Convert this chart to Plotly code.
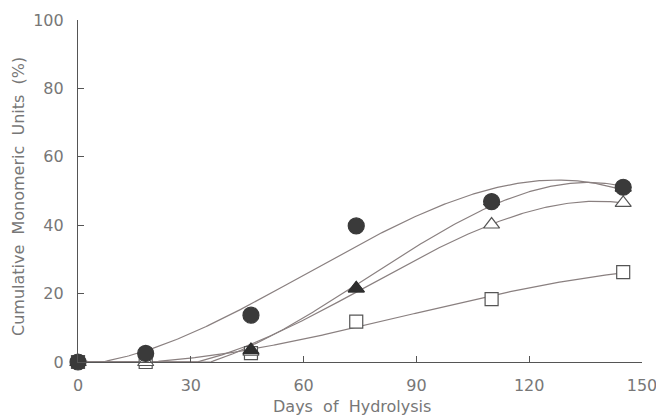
import numpy as np
import plotly.graph_objects as go

days = [0, 18, 46, 74, 110, 145]
filled_circle = [0, 2.5, 13.7, 39.8, 46.9, 51.1]
filled_triangle = [0, -0.5, 3.5, 21.5, 47.0, 51.0]
open_triangle = [0, 0, 3.0, 21.5, 40.2, 46.5]
open_square = [0, 0, 2.6, 11.8, 18.4, 26.3]

x_ticks = [0, 30, 60, 90, 120, 150]
y_ticks = [0, 20, 40, 60, 80, 100]

series = [
    (filled_circle, "circle", "#3a3a3a", "#3a3a3a", 16),
    (filled_triangle, "triangle-up", "#2e2e2e", "#2e2e2e", 14),
    (open_triangle, "triangle-up", "white", "#555555", 14),
    (open_square, "square", "white", "#555555", 13),
]

fig = go.Figure()
xs = np.linspace(0, 145, 300)
for ys, sym, fill, edge, size in series:
    coef = np.polyfit(days, ys, 3)
    fit = np.clip(np.polyval(coef, xs), 0, None)
    fig.add_trace(go.Scatter(x=xs, y=fit, mode="lines",
                             line=dict(color="#8a8080", width=1.2),
                             hoverinfo="skip", showlegend=False))
for ys, sym, fill, edge, size in reversed(series):
    fig.add_trace(go.Scatter(x=days, y=ys, mode="markers",
                             marker=dict(symbol=sym, size=size, color=fill,
                                         line=dict(color=edge, width=1.2)),
                             cliponaxis=False, showlegend=False))

FONT = "DejaVu Sans, Verdana, sans-serif"
axis_font = dict(family=FONT, size=16, color="#777777")
L, R, T, B = 78, 14, 20, 54
fig.update_layout(
    width=656, height=416,
    margin=dict(l=L, r=R, t=T, b=B),
    paper_bgcolor="white", plot_bgcolor="white",
    xaxis=dict(range=[0, 150], tickvals=x_ticks, ticks="inside", ticklen=6,
               tickcolor="#555555", showline=True, linecolor="#555555", linewidth=1.2,
               showgrid=False, zeroline=False, tickfont=axis_font, automargin=False,
               ticklabeloverflow="allow", ticklabelstandoff=9),
    yaxis=dict(range=[0, 100], tickvals=y_ticks, ticks="inside", ticklen=6,
               tickcolor="#555555", showline=True, linecolor="#555555", linewidth=1.2,
               showgrid=False, zeroline=False, tickfont=axis_font, ticklabelstandoff=10,
               automargin=False, ticklabeloverflow="allow"),
)
plot_w = 656 - L - R
plot_h = 416 - T - B
fig.add_annotation(text="Days  of  Hydrolysis", xref="paper", yref="paper",
                   x=(352 - L) / plot_w, y=-(406 - (416 - B)) / plot_h,
                   xanchor="center", yanchor="middle", showarrow=False,
                   font=dict(family=FONT, size=16, color="#777777"))
fig.add_annotation(text="Cumulative  Monomeric  Units  (%)", textangle=-90,
                   xref="paper", yref="paper",
                   x=-(L - 18) / plot_w, y=((416 - B) - 197) / plot_h,
                   xanchor="center", yanchor="middle", showarrow=False,
                   font=dict(family=FONT, size=16, color="#777777"))

fig.write_html("out.html")
